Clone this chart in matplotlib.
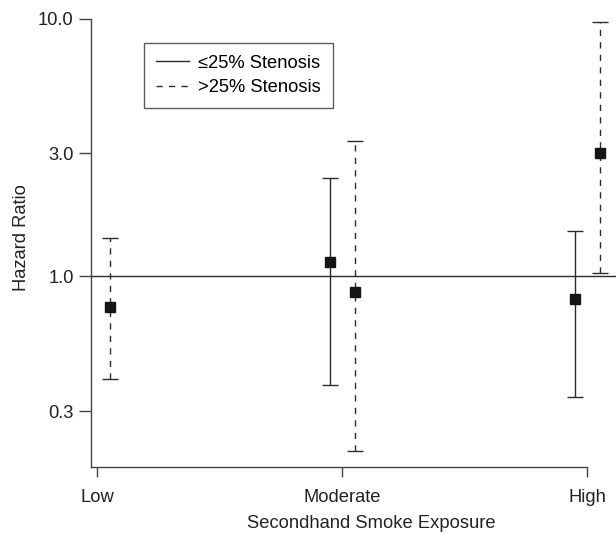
"""Hazard ratios by secondhand smoke exposure, split by stenosis group."""

import matplotlib

matplotlib.use("Agg")
import matplotlib.pyplot as plt
import numpy as np
from matplotlib.lines import Line2D
from matplotlib.ticker import FixedLocator, NullLocator

plt.rcParams["font.family"] = ["Liberation Sans", "DejaVu Sans"]

CATEGORIES = ["Low", "Moderate", "High"]

# <=25% stenosis (no estimate shown for Low)
LOW_HR = [np.nan, 1.14, 0.82]
LOW_LO = [np.nan, 0.38, 0.34]
LOW_HI = [np.nan, 2.41, 1.50]

# >25% stenosis
HIGH_HR = [0.76, 0.87, 3.02]
HIGH_LO = [0.40, 0.21, 1.03]
HIGH_HI = [1.41, 3.36, 9.73]

Y_TICKS = [0.3, 1.0, 3.0, 10.0]
Y_TICK_LABELS = ["0.3", "1.0", "3.0", "10.0"]

INK = "#2b2b2b"
DASH = (0, (4.5, 4.5))
FS = 13.2


def draw_series(ax, x, hr, lo, hi, dashed):
    hr = np.asarray(hr, dtype=float)
    yerr = np.vstack([hr - np.asarray(lo), np.asarray(hi) - hr])
    line, caps, bars = ax.errorbar(
        x, hr, yerr=yerr, fmt="s", color=INK, ecolor=INK,
        markersize=7.4, markerfacecolor="#151515", markeredgecolor="#151515",
        elinewidth=1.0, capsize=5.8, capthick=1.0, zorder=3,
    )
    if dashed:
        bars[0].set_linestyle(DASH)


fig = plt.figure(figsize=(6.16, 5.43), dpi=100)
ax = fig.add_axes([91 / 616, (543 - 467) / 543, (616 - 91) / 616, (467 - 10) / 543])

xpos = np.arange(1, len(CATEGORIES) + 1)
ax.axhline(1.0, color=INK, lw=1.0, zorder=1, xmin=0, xmax=1)
draw_series(ax, xpos - 0.047, LOW_HR, LOW_LO, LOW_HI, dashed=False)
draw_series(ax, xpos + 0.052, HIGH_HR, HIGH_LO, HIGH_HI, dashed=True)

ax.set_yscale("log")
ax.set_ylim(0.182, 10.8)
ax.set_xlim(1 - 6 / 245, 3 + 29 / 245)

ax.yaxis.set_major_locator(FixedLocator(Y_TICKS))
ax.yaxis.set_minor_locator(NullLocator())
ax.set_yticklabels(Y_TICK_LABELS)
ax.set_xticks(xpos)
ax.set_xticklabels(CATEGORIES)

for side in ("top", "right"):
    ax.spines[side].set_visible(False)
for side in ("left", "bottom"):
    ax.spines[side].set_color("#444444")
    ax.spines[side].set_linewidth(1.0)
ax.spines["bottom"].set_bounds(1 - 6 / 245, 3)
ax.spines["left"].set_bounds(0.182, 10.0)

ax.tick_params(axis="y", direction="out", length=9, width=1.0, color="#444444",
               labelsize=FS, pad=3.5, labelcolor="#222222")
ax.tick_params(axis="x", direction="out", length=7, width=1.0, color="#444444",
               labelsize=FS, pad=9, labelcolor="#222222")

fig.text(22 / 616, 1 - 238 / 543, "Hazard Ratio", fontsize=FS, rotation=90,
         color="#222222", ha="center", va="center")
fig.text(371 / 616, 1 - 523 / 543, "Secondhand Smoke Exposure", fontsize=FS,
         color="#222222", ha="center", va="center")

handles = [
    Line2D([], [], color=INK, lw=1.0),
    Line2D([], [], color=INK, lw=1.0, linestyle=DASH),
]
leg = ax.legend(
    handles, ["\u226425% Stenosis", ">25% Stenosis"],
    loc="upper left", bbox_to_anchor=(144 / 616, 1 - 43 / 543),
    bbox_transform=fig.transFigure, fontsize=FS, frameon=True, fancybox=False,
    edgecolor="#333333", handlelength=1.8, handletextpad=0.5,
    labelspacing=0.4, borderpad=0.65, borderaxespad=0,
)
leg.get_frame().set_linewidth(1.0)
leg.get_frame().set_facecolor("white")

fig.savefig("out.png", dpi=100)
